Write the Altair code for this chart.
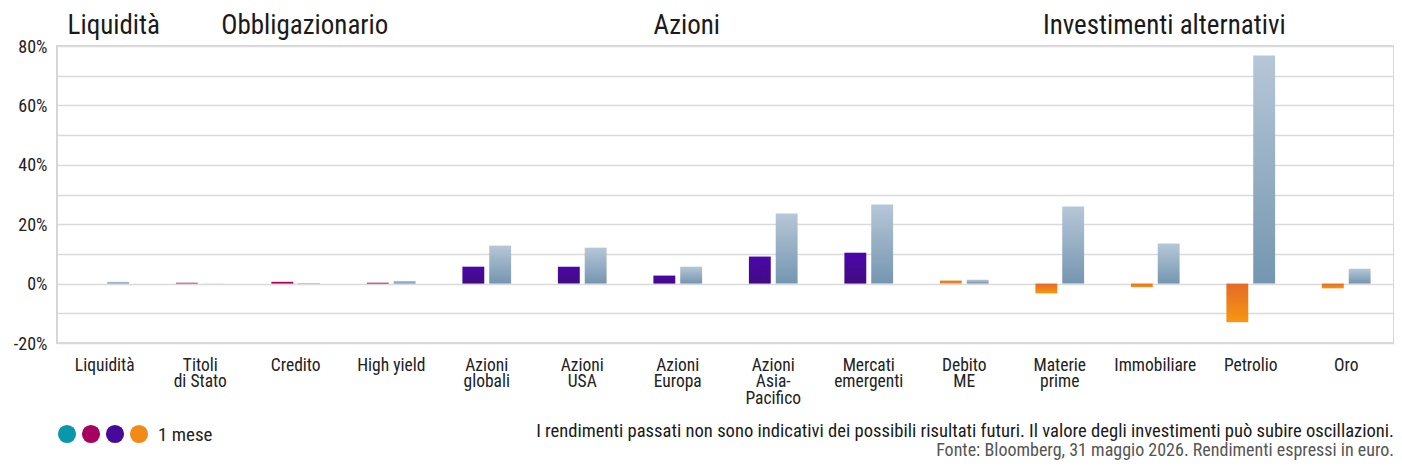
import altair as alt
import pandas as pd

FONT = "Roboto Condensed, Liberation Sans Narrow, DejaVu Sans Condensed, Roboto, sans-serif"

categories = ["Liquidità", "Titoli\ndi Stato", "Credito", "High yield", "Azioni\nglobali",
              "Azioni\nUSA", "Azioni\nEuropa", "Azioni\nAsia-\nPacifico", "Mercati\nemergenti",
              "Debito\nME", "Materie\nprime", "Immobiliare", "Petrolio", "Oro"]
groups = ["Liquidità", "Obbligazionario", "Obbligazionario", "Obbligazionario",
          "Azioni", "Azioni", "Azioni", "Azioni", "Azioni",
          "Investimenti alternativi", "Investimenti alternativi", "Investimenti alternativi",
          "Investimenti alternativi", "Investimenti alternativi"]
ret_1m = [0.0, 0.3, 0.6, 0.3, 5.7, 5.7, 2.7, 9.1, 10.4, 1.0, -3.3, -1.2, -13.0, -1.6]
ret_1y = [0.6, 0.05, 0.2, 0.9, 12.8, 12.1, 5.7, 23.6, 26.6, 1.3, 26.0, 13.5, 76.8, 5.0]
series = ["1 mese", "1 anno"]
header_names = ["Liquidità", "Obbligazionario", "Azioni", "Investimenti alternativi"]
legend_keys = ["Liquidità", "Obbligazionario", "Azioni", "Investimenti alternativi"]
legend_colors = ["#0a97ab", "#a8005f", "#46099c", "#f28a1a"]
note1 = "I rendimenti passati non sono indicativi dei possibili risultati futuri. Il valore degli investimenti può subire oscillazioni."
note2 = "Fonte: Bloomberg, 31 maggio 2026. Rendimenti espressi in euro."

rows = []
for c, g, a, b in zip(categories, groups, ret_1m, ret_1y):
    rows.append({"cat": c, "group": g, "series": series[0], "value": a, "key": g})
    rows.append({"cat": c, "group": g, "series": series[1], "value": b, "key": "anno"})
df = pd.DataFrame(rows)

def grad(top, bottom):
    return alt.Gradient(gradient="linear", x1=0, x2=0, y1=0, y2=1,
                        stops=[alt.GradientStop(color=top, offset=0),
                               alt.GradientStop(color=bottom, offset=1)])

gradients = {
    "Liquidità": grad("#0aa0b4", "#0a8aa0"),
    "Obbligazionario": grad("#b0005f", "#a00058"),
    "Azioni": grad("#4c06aa", "#410c80"),
    "Investimenti alternativi": grad("#e56a26", "#f7970f"),
    "anno": grad("#b6c7d7", "#7496b0"),
}

W = 1337
x_enc = alt.X("cat:N", sort=categories,
              scale=alt.Scale(domain=categories, paddingInner=0.49, paddingOuter=0.245),
              axis=alt.Axis(title=None, labelAngle=0, ticks=False, domain=False,
                            labelExpr="split(datum.label, '\\n')", labelFontSize=17.5,
                            labelFont=FONT, labelColor="#222222", labelPadding=13,
                            labelLineHeight=16.8, labelBaseline="top"))
xo_enc = alt.XOffset("series:N", sort=series, scale=alt.Scale(domain=series, paddingInner=0.185))
y_enc = alt.Y("value:Q", scale=alt.Scale(domain=[-20, 80], nice=False, zero=False),
              axis=alt.Axis(title=None, values=list(range(-20, 81, 10)),
                            labelExpr="datum.value % 20 === 0 ? datum.value + '%' : ''",
                            grid=True, gridColor="#dadada", gridWidth=1.6, ticks=False,
                            domain=False, labelFontSize=18, labelFont=FONT,
                            labelColor="#222222", labelPadding=10, labelOffset=1))

bar_layers = []
for k, gr in gradients.items():
    bar_layers.append(
        alt.Chart(df).transform_filter(alt.datum.key == k)
        .mark_bar(color=gr)
        .encode(x=x_enc, xOffset=xo_enc, y=y_enc)
    )
bars = alt.layer(*bar_layers)

# group headers centred on their categories
hdr_rows = []
for h in header_names:
    idx = [i for i, g in enumerate(groups) if g == h]
    hdr_rows.append({"name": h, "pos": (min(idx) + max(idx) + 1) / 2})
hdr = pd.DataFrame(hdr_rows)
headers = alt.Chart(hdr).mark_text(font=FONT, fontSize=27, color="#1a1a1a", dx=9,
                                   baseline="alphabetic").encode(
    x=alt.X("pos:Q", scale=alt.Scale(domain=[0, len(categories)]), axis=None),
    y=alt.value(-12),
    text="name:N",
)

leg = pd.DataFrame({"key": legend_keys})
dots = alt.Chart(leg).mark_circle(size=330, opacity=1).encode(
    x=alt.X("key:N", sort=legend_keys, scale=alt.Scale(range=[10, 82], padding=0), axis=None),
    y=alt.value(388),
    color=alt.Color("key:N", scale=alt.Scale(domain=legend_keys, range=legend_colors), legend=None),
)
leg_text = alt.Chart(pd.DataFrame({"t": ["1 mese"]})).mark_text(
    font=FONT, fontSize=19, color="#222222", align="left", baseline="middle").encode(
    x=alt.value(101), y=alt.value(389), text="t:N")
foot1 = alt.Chart(pd.DataFrame({"t": [note1]})).mark_text(
    font=FONT, fontSize=18.6, color="#1a1a1a", align="right", baseline="alphabetic").encode(
    x=alt.value(W), y=alt.value(391), text="t:N")
foot2 = alt.Chart(pd.DataFrame({"t": [note2]})).mark_text(
    font=FONT, fontSize=18, color="#555555", align="right", baseline="alphabetic").encode(
    x=alt.value(W), y=alt.value(410), text="t:N")

chart = alt.layer(bars, headers, dots, leg_text, foot1, foot2).resolve_scale(
    x="independent", color="independent"
).properties(
    width=W, height=297,
    padding={"left": 49, "top": 38, "right": 0, "bottom": 117},
    autosize=alt.AutoSizeParams(type="none"),
).configure_view(stroke="#d6d6d6", strokeWidth=2)

chart.save("out.html", embed_options={"renderer": "svg", "actions": False})
